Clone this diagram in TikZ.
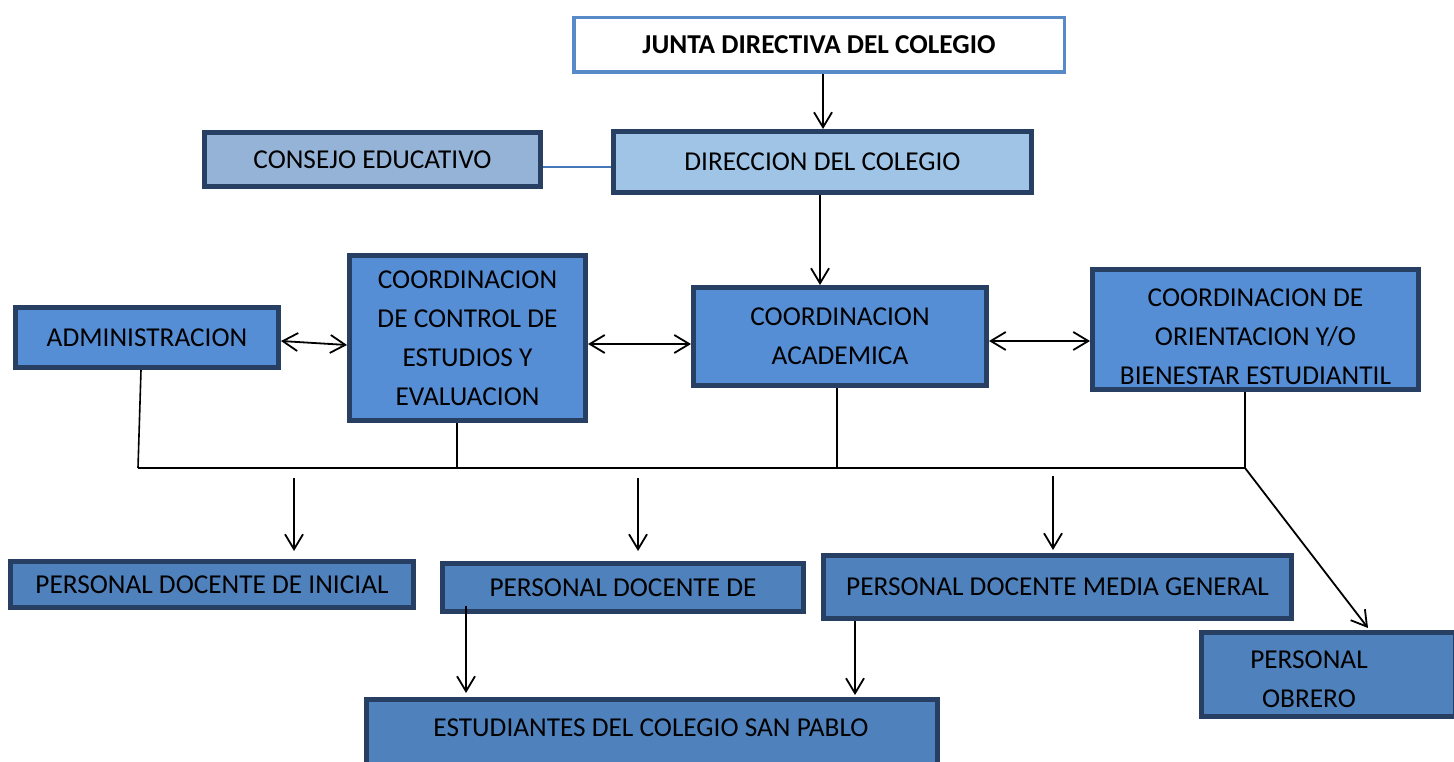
\documentclass[tikz,border=0pt]{standalone}
\usepackage{fontspec}
\setmainfont{Carlito}
\usetikzlibrary{arrows.meta,calc}
\definecolor{darkb}{RGB}{38,63,98}
\definecolor{midfill}{RGB}{85,142,213}
\definecolor{botfill}{RGB}{79,129,189}
\definecolor{consfill}{RGB}{149,179,215}
\definecolor{dirfill}{RGB}{160,196,230}
\definecolor{juntab}{RGB}{88,138,200}
\definecolor{thinblue}{RGB}{70,120,185}
\tikzset{
  box/.style={draw=darkb, line width=5pt, rectangle, align=center, inner sep=2pt,
    font=\fontsize{27.3}{39}\selectfont, text=black},
  conn/.style={line width=1.6pt, black},
  arr/.style={line width=1.8pt, black, -{Straight Barb[length=15pt,width=18pt,line width=1.8pt]}},
  darr/.style={line width=1.8pt, black, {Straight Barb[length=15pt,width=18pt,line width=1.8pt]}-{Straight Barb[length=15pt,width=18pt,line width=1.8pt]}},
}
\begin{document}
\begin{tikzpicture}[x=1pt,y=-1pt]
\useasboundingbox (0,0) rectangle (1454,762);

% top
\node[box, draw=juntab, line width=3.5pt, fill=white, minimum width=490.5pt, minimum height=54.5pt,
  font=\fontsize{27.3}{39}\selectfont\bfseries] (junta) at (819,45) {JUNTA DIRECTIVA DEL COLEGIO};
\node[box, fill=dirfill, minimum width=418pt, minimum height=61pt] (dir) at (822.5,162) {DIRECCION DEL COLEGIO};
\node[box, fill=consfill, minimum width=336pt, minimum height=54pt] (cons) at (372.5,160) {CONSEJO EDUCATIVO};

% middle
\node[box, fill=midfill, minimum width=263pt, minimum height=60pt] (admin) at (147,337.5) {ADMINISTRACION};
\node[box, fill=midfill, minimum width=236pt, minimum height=165pt] (ctrl) at (467.5,338) {COORDINACION\\DE CONTROL DE\\ESTUDIOS Y\\EVALUACION};
\node[box, fill=midfill, minimum width=293pt, minimum height=98pt] (acad) at (840,336.5) {COORDINACION\\ACADEMICA};
\node[box, fill=midfill, minimum width=326pt, minimum height=120pt] (orient) at (1255.5,329.5) {};
\node[font=\fontsize{27.3}{39}\selectfont, align=center] (orientt) at (1255.5,337) {COORDINACION DE\\ORIENTACION Y/O\\BIENESTAR ESTUDIANTIL};

% bottom
\node[box, fill=botfill, minimum width=403pt, minimum height=46pt] (inicial) at (212,584.5) {PERSONAL DOCENTE DE INICIAL};
\node[box, fill=botfill, minimum width=361pt, minimum height=48pt] (docde) at (623,587.5) {PERSONAL DOCENTE DE};
\node[box, fill=botfill, minimum width=468pt, minimum height=63pt] (media) at (1057.5,587) {PERSONAL DOCENTE MEDIA GENERAL};
\node[box, fill=botfill, minimum width=254pt, minimum height=84pt] (obrero) at (1328.5,674.5) {};
\node[font=\fontsize{27.3}{39}\selectfont, align=center] (obrerot) at (1309,679) {PERSONAL\\OBRERO};
\node[box, fill=botfill, minimum width=571pt, minimum height=68pt] (estud) at (652,733.5) {};
\node[font=\fontsize{27.3}{39}\selectfont] (estudt) at (651,728) {ESTUDIANTES DEL COLEGIO SAN PABLO};

% top connectors
\draw[line width=2pt, thinblue] ([yshift=-7pt]cons.east) -- ([yshift=-7pt]dir.west |- cons.east);
\draw[arr] ([xshift=4pt]junta.south) -- ([xshift=4pt]junta.south |- dir.north);
\draw[arr] ([xshift=-2.5pt]dir.south) -- ([xshift=-2.5pt]dir.south |- acad.north);

% horizontal double arrows
\draw[darr] ([yshift=-3.5pt]admin.east) -- ([yshift=-7pt]ctrl.west);
\draw[darr] ([yshift=-6pt]ctrl.east) -- ([yshift=-7.5pt]acad.west);
\draw[darr] ([yshift=-4.5pt]acad.east) -- ([yshift=-11.5pt]orient.west);

% bus
\coordinate (b0) at (138,468);
\coordinate (b1) at (457,468);
\coordinate (b2) at (837,468);
\coordinate (b3) at (1245,468);
\draw[line width=2.6pt] (b0) -- (b3);
\draw[conn] ([xshift=-6pt]admin.south) -- (b0);
\draw[conn] (ctrl.south -| b1) -- (b1);
\draw[conn] (acad.south -| b2) -- (b2);
\draw[conn] (orient.south -| b3) -- (b3);

% arrows down
\coordinate (a1) at (294,478);
\coordinate (a2) at (638,478);
\coordinate (a3) at (1053,476);
\draw[arr] (a1) -- ([yshift=8pt]a1 |- inicial.north);
\draw[arr] (a2) -- ([yshift=10pt]a2 |- docde.north);
\draw[arr] (a3) -- ([yshift=3pt]a3 |- media.north);
\draw[arr] (b3) -- ([xshift=39.5pt,yshift=2pt]obrero.north);

% to students
\coordinate (d1) at (466,606);
\draw[arr] (d1) -- ([yshift=4pt]d1 |- estud.north);
\draw[arr] ([xshift=-202.5pt]media.south) -- ([xshift=-202.5pt,yshift=2pt]media.south |- estud.north);
\end{tikzpicture}
\end{document}
